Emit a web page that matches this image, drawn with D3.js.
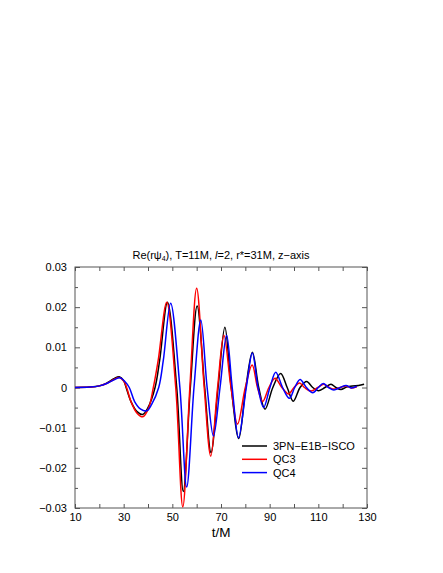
<!DOCTYPE html>
<html><head><meta charset="utf-8">
<script src="https://cdn.jsdelivr.net/npm/d3@7"></script>
<style>body{margin:0;background:#fff}svg{display:block}text{font-family:"Liberation Sans",Arial,sans-serif}</style>
</head><body>
<script>
// ---- data ----
const seriesNames = ["3PN\u2212E1B\u2212ISCO", "QC3", "QC4"];
const seriesColors = ["#000000", "#ff0000", "#0000ff"];
const xTickValues = [10, 30, 50, 70, 90, 110, 130];
const yTickValues = [-0.03, -0.02, -0.01, 0, 0.01, 0.02, 0.03];
const black = [[10,0],[16,0.0001],[20,0.0004],[23,0.0011],[26,0.0022],[28.2,0.0027],[30,0.0017],[31,0],[33,-0.0035],[35.5,-0.006],[37.8,-0.0067],[40,-0.005],[42.9,0],[44.8,0.0068],[48,0.0212],[51.8,0],[54.5,-0.0259],[57.4,0],[60.2,0.0203],[63.3,0],[65.9,-0.0162],[68.8,0],[71.6,0.0150],[74.2,0],[77.3,-0.0127],[80.2,0],[82.9,0.0088],[85.5,0],[88.1,-0.0054],[91.3,0],[94.5,0.0035],[97.2,0],[99.7,-0.0034],[102.5,0],[105.2,0.0015],[107.7,0],[110,-0.0008],[112.7,0],[115.2,0.0008],[117.2,0],[119.3,-0.0005],[121.5,0.0001],[124,0.0004],[126.5,0.0005],[128.8,0.0008]];
const qc3 = [[10,0],[16,0.0001],[20,0.0004],[23,0.0010],[26,0.0020],[28.2,0.0025],[30,0.0016],[31.2,0],[33,-0.0035],[35.5,-0.0064],[37.9,-0.0073],[40.2,-0.0052],[42.2,0],[44.2,0.0068],[47.7,0.0212],[51.4,0],[54.3,-0.0297],[57.2,0],[60,0.0247],[63.1,0],[65.8,-0.0171],[68.6,0],[71.2,0.0130],[74.1,0],[76.8,-0.0091],[80,0],[82.8,0.0056],[85,0],[87.1,-0.0035],[89.7,0],[92.2,0.0023],[95,0],[97.8,-0.0016],[100,0],[102.3,0.0011],[104.3,0],[107,-0.0009],[109.8,0],[112.2,0.0008],[114.5,0],[116.5,-0.0004],[119,0],[121.4,0.0004],[123.5,-0.0001],[125.8,0.0002]];
const qc4 = [[10,0],[16,0.0001],[20,0.0004],[23,0.0010],[26,0.0019],[28.5,0.0024],[30.5,0.0015],[32.3,0],[34.5,-0.0035],[37,-0.0054],[39.5,-0.0058],[41.5,-0.0042],[44.4,0],[46.3,0.0068],[49.3,0.021],[53.1,0],[55.9,-0.0248],[58.9,0],[61.7,0.0168],[64.3,0],[66.9,-0.0121],[69.6,0],[72.3,0.013],[74.6,0],[77.2,-0.0125],[80.4,0],[82.9,0.0086],[85.2,0],[87.5,-0.0050],[90.1,0],[92.5,0.0038],[95.3,0],[98.1,-0.0027],[100.3,0],[102.5,0.0020],[105.1,0],[107.7,-0.0013],[110,0],[112,0.0010],[114.2,0],[116.4,-0.0006],[119,0],[121.4,0.0005],[123.5,-0.0001],[125.8,0.0003]];
const seriesData = [black, qc3, qc4];

// ---- layout ----
const W = 443, H = 573;
const m = {left: 75, right: 367, top: 267, bottom: 508};
const svg = d3.select("body").append("svg").attr("width", W).attr("height", H);
svg.append("rect").attr("width", W).attr("height", H).attr("fill", "#fff");

const x = d3.scaleLinear().domain([10, 130]).range([m.left, m.right]);
const y = d3.scaleLinear().domain([-0.03, 0.03]).range([m.bottom, m.top]);

const fmtY = d => d === 0 ? "0" : (d < 0 ? "\u2212" : "") + Math.abs(d).toFixed(2);
const axisCol = "#555";

function styleAxis(g){ g.select(".domain").remove(); g.selectAll("line").attr("stroke", axisCol); g.selectAll("text").attr("font-size", 11).attr("fill", "#000"); }
const xMinor = d3.range(10, 131, 10);
const yMinor = d3.range(-0.03, 0.0301, 0.005).filter(v => !yTickValues.some(t => Math.abs(t - v) < 1e-9));

svg.append("g").attr("transform", `translate(0,${m.bottom})`)
  .call(d3.axisBottom(x).tickValues(xMinor).tickSize(-4).tickFormat(d => xTickValues.includes(d) ? d : "").tickPadding(5))
  .call(styleAxis);
svg.append("g").attr("transform", `translate(0,${m.top})`)
  .call(d3.axisTop(x).tickValues(xMinor).tickSize(-4).tickFormat(""))
  .call(styleAxis);
svg.append("g").attr("transform", `translate(${m.left},0)`)
  .call(d3.axisLeft(y).tickValues(yTickValues).tickSize(-5).tickFormat(fmtY).tickPadding(8))
  .call(styleAxis);
svg.append("g").attr("transform", `translate(${m.left},0)`)
  .call(d3.axisLeft(y).tickValues(yMinor).tickSize(-3).tickFormat(""))
  .call(styleAxis);
svg.append("g").attr("transform", `translate(${m.right},0)`)
  .call(d3.axisRight(y).tickValues(yTickValues).tickSize(-5).tickFormat(""))
  .call(styleAxis);
svg.append("g").attr("transform", `translate(${m.right},0)`)
  .call(d3.axisRight(y).tickValues(yMinor).tickSize(-3).tickFormat(""))
  .call(styleAxis);

svg.append("rect").attr("x", m.left).attr("y", m.top).attr("width", m.right - m.left).attr("height", m.bottom - m.top)
  .attr("fill", "none").attr("stroke", axisCol).attr("stroke-width", 1);

// curves
const line = d3.line().x(d => x(d[0])).y(d => y(d[1])).curve(d3.curveCatmullRom.alpha(0.5));
svg.append("defs").append("clipPath").attr("id", "clip").append("rect")
  .attr("x", m.left).attr("y", m.top).attr("width", m.right - m.left).attr("height", m.bottom - m.top);
const plot = svg.append("g").attr("clip-path", "url(#clip)");
seriesData.forEach((s, i) => {
  plot.append("path").datum(s).attr("d", line).attr("fill", "none")
    .attr("stroke", seriesColors[i]).attr("stroke-width", 1.5);
});

// legend
const leg = svg.append("g");
seriesNames.forEach((n, i) => {
  const yy = 446 + i * 13.3;
  leg.append("line").attr("x1", 242).attr("x2", 267).attr("y1", yy).attr("y2", yy)
    .attr("stroke", seriesColors[i]).attr("stroke-width", 1.5);
  leg.append("text").attr("x", 273).attr("y", yy + 4).attr("font-size", 11).text(n);
});

// title
const title = svg.append("text").attr("x", (m.left + m.right) / 2).attr("y", 259)
  .attr("text-anchor", "middle").attr("font-size", 11);
title.append("tspan").text("Re(r\u03c8");
title.append("tspan").attr("font-size", 7).attr("dy", 2).text("4");
title.append("tspan").attr("dy", -2).text("), T=11M, ");
title.append("tspan").attr("font-style", "italic").text("l");
title.append("tspan").text("=2, r*=31M, z\u2212axis");

// x label
svg.append("text").attr("x", (m.left + m.right) / 2).attr("y", 537).attr("text-anchor", "middle")
  .attr("font-size", 13.5).text("t/M");
</script>
</body></html>
